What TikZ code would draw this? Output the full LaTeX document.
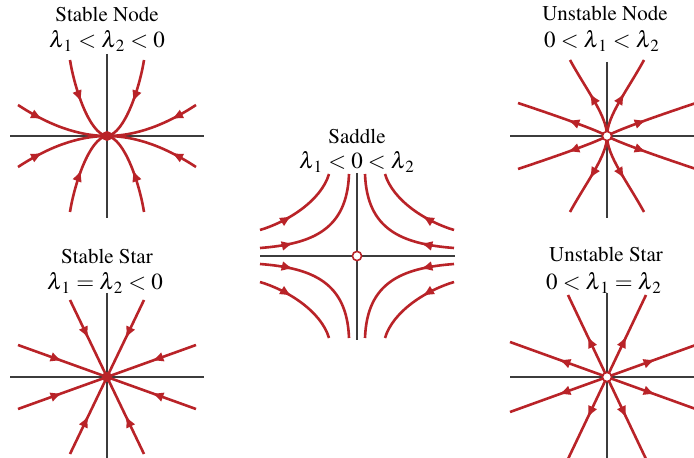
\documentclass[tikz,border=0pt]{standalone}
\usepackage[T1]{fontenc}
\usepackage{mathptmx}
\usetikzlibrary{arrows.meta,decorations.markings,calc}

\definecolor{trajred}{RGB}{185,35,40}
\definecolor{axisgray}{RGB}{60,60,60}
\newcommand{\eig}[1]{\lambda_{\mkern2mu #1}}

\tikzset{
  axisline/.style={draw=axisgray, line width=0.7pt},
  traj/.style={draw=trajred, line width=1.3pt},
  flow/.style={postaction={decorate}, decoration={markings,
      mark=at position #1 with {\arrow[trajred]{Latex[length=6pt,width=5pt]}}}},
  flow/.default=0.5,
  sink/.style={circle, fill=trajred, inner sep=0pt, minimum size=5pt},
  source/.style={circle, draw=trajred, fill=white, line width=0.8pt, inner sep=0pt, minimum size=4.6pt},
  paneltitle/.style={anchor=base, font=\fontsize{10.5}{12}\selectfont},
  cond/.style={anchor=base, font=\fontsize{11.5}{14}\selectfont},
}

\begin{document}
\begin{tikzpicture}[x=0.5pt, y=-0.5pt]
    \clip (0,0) rectangle (694,458);
    % ---- stable node
    \node[paneltitle] (sntitle) at (107,22) {Stable Node};
    \node[cond] (sncond) at (107,48) {$\eig1 < \eig2 < 0$};
    \begin{scope}[shift={(107,136)}]
      \draw[axisline] (-97,0) -- (97,0);
      \draw[axisline] (0,-82) -- (0,82);
      \foreach \sx/\sy in {1/1,-1/1,1/-1,-1/-1} {
        \begin{scope}[xscale=\sx, yscale=\sy]
          \draw[traj, flow=0.5] (-37,-76) .. controls (-33,-50) and (-18,-2) .. (0,0);
          \draw[traj, flow=0.3] (-89,-31) .. controls (-60,-12) and (-30,0) .. (0,0);
        \end{scope}
      }
      \node[sink] (sn) at (0,0) {};
    \end{scope}
    % ---- unstable node
    \node[paneltitle] (untitle) at (605,21) {Unstable Node};
    \node[cond] (uncond) at (602,48) {$0 < \eig1 < \eig2$};
    \begin{scope}[shift={(607,136)}]
      \draw[axisline] (-97,0) -- (90,0);
      \draw[axisline] (0,-74) -- (0,82);
      \foreach \sx/\sy in {1/1,-1/1,1/-1,-1/-1} {
        \begin{scope}[xscale=\sx, yscale=\sy]
          \draw[traj, flow=0.55] (0,0) .. controls (0,-20) and (-20,-45) .. (-37,-76);
          \draw[traj, flow=0.45] (0,0) .. controls (-10,-6) and (-50,-20) .. (-89,-33);
        \end{scope}
      }
      \node[source] (un) at (0,0) {};
    \end{scope}
    % ---- saddle
    \node[paneltitle] (satitle) at (357,144) {Saddle};
    \node[cond] (sacond) at (357,169) {$\eig1 < 0 < \eig2$};
    \begin{scope}[shift={(357,256)}]
      \draw[axisline] (-97,0) -- (98,0);
      \draw[axisline] (0,-83) -- (0,84);
      \foreach \sx/\sy in {1/1,-1/1,1/-1,-1/-1} {
        \begin{scope}[xscale=\sx, yscale=\sy]
          \draw[traj, flow=0.38] (-97,-26) .. controls (-70,-34) and (-36,-55) .. (-28,-82);
          \draw[traj, flow=0.26] (-97,-8) .. controls (-45,-12) and (-10,-26) .. (-8,-82);
        \end{scope}
      }
      \node[source] (sa) at (0,0) {};
    \end{scope}
    % ---- stable star
    \node[paneltitle] (sstitle) at (107,264) {Stable Star};
    \node[cond] (sscond) at (105,290) {$\eig1 = \eig2 < 0$};
    \begin{scope}[shift={(107,377)}]
      \draw[axisline] (-97,0) -- (97,0);
      \draw[axisline] (0,-84) -- (0,81);
      \foreach \sx/\sy in {1/1,-1/1,1/-1,-1/-1} {
        \begin{scope}[xscale=\sx, yscale=\sy]
          \draw[traj, flow=0.5] (-37,-77) -- (0,0);
          \draw[traj, flow=0.5] (-89,-32) -- (0,0);
        \end{scope}
      }
      \node[sink] (ss) at (0,0) {};
    \end{scope}
    % ---- unstable star
    \node[paneltitle] (ustitle) at (606,262) {Unstable Star};
    \node[cond] (uscond) at (604,290) {$0 < \eig1 = \eig2$};
    \begin{scope}[shift={(607,377)}]
      \draw[axisline] (-97,0) -- (90,0);
      \draw[axisline] (0,-84) -- (0,81);
      \foreach \sx/\sy in {1/1,-1/1,1/-1,-1/-1} {
        \begin{scope}[xscale=\sx, yscale=\sy]
          \draw[traj, flow=0.5] (0,0) -- (-39,-82);
          \draw[traj, flow=0.5] (0,0) -- (-97,-35);
        \end{scope}
      }
      \node[source] (us) at (0,0) {};
    \end{scope}
\end{tikzpicture}
\end{document}
